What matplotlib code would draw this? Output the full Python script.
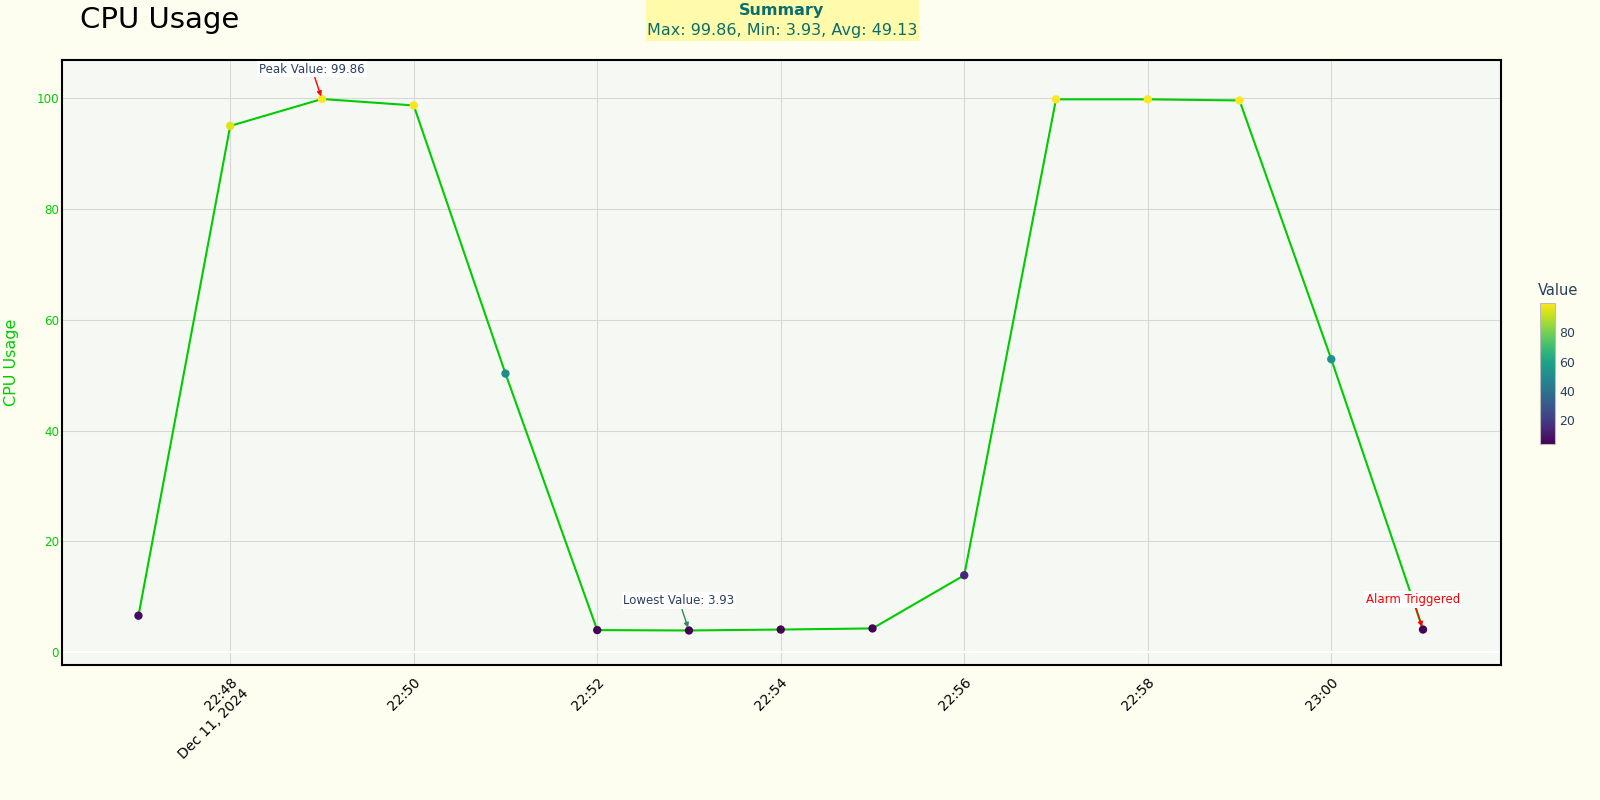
import pandas as pd
import matplotlib
matplotlib.use("Agg")
import matplotlib.pyplot as plt
from matplotlib.patches import Rectangle

times = ["2024-12-11 22:47", "2024-12-11 22:48", "2024-12-11 22:49", "2024-12-11 22:50",
         "2024-12-11 22:51", "2024-12-11 22:52", "2024-12-11 22:53", "2024-12-11 22:54",
         "2024-12-11 22:55", "2024-12-11 22:56", "2024-12-11 22:57", "2024-12-11 22:58",
         "2024-12-11 22:59", "2024-12-11 23:00", "2024-12-11 23:01"]
cpu = [6.6, 95.0, 99.86, 98.7, 50.3, 4.0, 3.93, 4.1, 4.3, 13.9, 99.8, 99.8, 99.6, 52.9, 4.1]
tick_times = ["2024-12-11 22:48", "2024-12-11 22:50", "2024-12-11 22:52", "2024-12-11 22:54",
              "2024-12-11 22:56", "2024-12-11 22:58", "2024-12-11 23:00"]
alarm_index = 14

paper = "#fefef0"
plot_bg = "#f5f8f3"
line_green = "#00cc00"
font_dark = "#2a3f5f"

t = pd.to_datetime(times)
ticks = pd.to_datetime(tick_times)
vmin, vmax = min(cpu), max(cpu)
i_max = cpu.index(vmax)
i_min = cpu.index(vmin)
avg = sum(cpu) / len(cpu)

fig = plt.figure(figsize=(16, 8), dpi=100, facecolor=paper)
ax = fig.add_axes([62 / 1600, 135 / 800, 1439 / 1600, 605 / 800])
ax.set_facecolor(plot_bg)

ax.plot(t, cpu, color=line_green, lw=1.5, zorder=3)
sc = ax.scatter(t, cpu, c=cpu, cmap="viridis", vmin=vmin, vmax=vmax, s=36,
                edgecolors="none", zorder=4)

ax.set_xlim(t[0] - pd.Timedelta(seconds=50), t[-1] + pd.Timedelta(seconds=51))
ax.set_ylim(-2.3, 106.9)

ax.set_xticks(ticks)
labels = [ticks[0].strftime("%H:%M") + "\n" + "Dec 11, 2024"] + [x.strftime("%H:%M") for x in ticks[1:]]
ax.set_xticklabels(labels, rotation=45, ha="right", rotation_mode="anchor",
                   multialignment="right", fontsize=10, color="black")
ax.set_yticks([0, 20, 40, 60, 80, 100])
ax.tick_params(axis="x", length=0, pad=7)
ax.tick_params(axis="y", length=0, pad=2, labelsize=8.6, labelcolor=line_green)

ax.grid(True, color="#d8d8d8", lw=0.8)
ax.axhline(0, color="white", lw=1.6, zorder=2)
for s in ax.spines.values():
    s.set_linewidth(1.5)
    s.set_color("black")

fig.text(12 / 1600, 1 - 362 / 800, "CPU Usage", rotation=90, ha="center", va="center",
         fontsize=11.5, color=line_green)

# Annotations
def note(i, text, color, arrow_color):
    ax.annotate(text, xy=(t[i], cpu[i]), xytext=(-10, 30), textcoords="offset pixels",
                ha="center", va="center", fontsize=8.5, color=color, zorder=6,
                bbox=dict(boxstyle="square,pad=0.15", fc="white", ec="none"),
                arrowprops=dict(arrowstyle="-|>", color=arrow_color, lw=1,
                                shrinkA=0, shrinkB=2, mutation_scale=7))

note(i_max, f"Peak Value: {vmax:.2f}", font_dark, "red")
note(i_min, f"Lowest Value: {vmin:.2f}", font_dark, "#2e8b57")
note(alarm_index, "Alarm Triggered", "red", "red")

# Titre et encadre resume
fig.text(80 / 1600, 1 - 20 / 800, "CPU Usage", ha="left", va="center", fontsize=21, color="black")
fig.patches.append(Rectangle((646 / 1600, 1 - 41 / 800), 273 / 1600, 41 / 800,
                             transform=fig.transFigure, fc="#fffbaa", ec="none"))
fig.text(782 / 1600, 1 - 10 / 800, "Summary", ha="center", va="center", fontsize=11.5,
         fontweight="bold", color="#0b6e6e")
fig.text(782 / 1600, 1 - 30 / 800, f"Max: {vmax:.2f}, Min: {vmin:.2f}, Avg: {avg:.2f}",
         ha="center", va="center", fontsize=11.5, color="#0b6e6e")

# Barre de couleur
cax = fig.add_axes([1540 / 1600, 1 - 444 / 800, 15 / 1600, 141 / 800])
cb = fig.colorbar(sc, cax=cax)
cb.set_ticks([20, 40, 60, 80])
cb.outline.set_edgecolor("#bbbbbb")
cb.outline.set_linewidth(0.8)
cax.tick_params(length=0, labelsize=9, labelcolor=font_dark, pad=3)
fig.text(1558 / 1600, 1 - 290 / 800, "Value", ha="center", va="center", fontsize=10.5, color=font_dark)

fig.savefig("out.png", dpi=100, facecolor=paper)
